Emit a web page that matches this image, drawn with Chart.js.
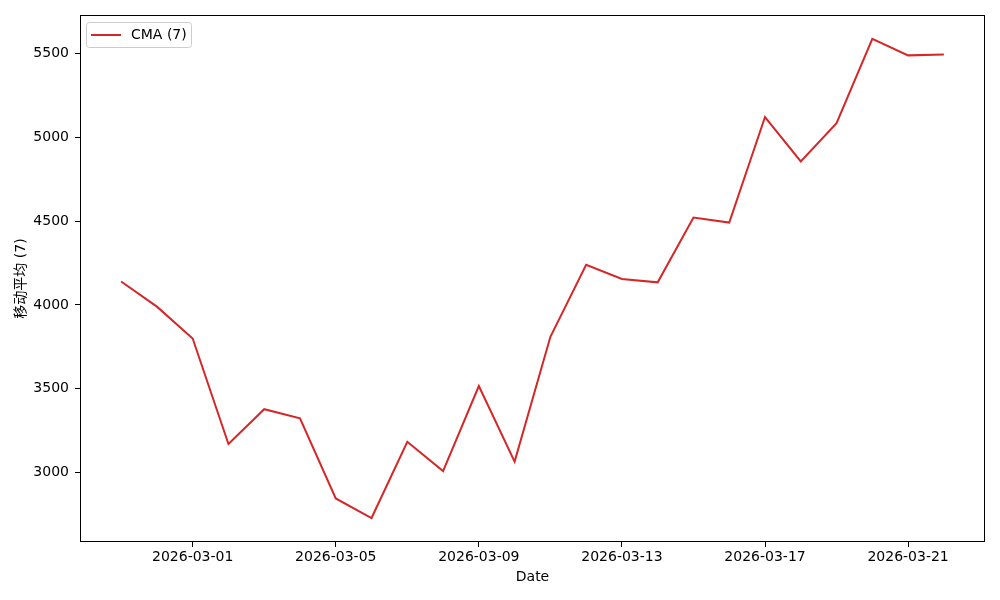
<!DOCTYPE html>
<html>
<head>
<meta charset="utf-8">
<script src="https://cdn.jsdelivr.net/npm/chart.js@4"></script>
<style>
  html, body { margin: 0; padding: 0; background: #fff; }
  #wrap { width: 1000px; height: 600px; }
</style>
</head>
<body>
<div id="wrap"><canvas id="chart" width="1000" height="600"></canvas></div>
<script>
const dates = [
  "2026-02-27", "2026-02-28", "2026-03-01", "2026-03-02", "2026-03-03", "2026-03-04",
  "2026-03-05", "2026-03-06", "2026-03-07", "2026-03-08", "2026-03-09", "2026-03-10",
  "2026-03-11", "2026-03-12", "2026-03-13", "2026-03-14", "2026-03-15", "2026-03-16",
  "2026-03-17", "2026-03-18", "2026-03-19", "2026-03-20", "2026-03-21", "2026-03-22"
];
const cmaValues = [
  4140, 3990, 3800, 3170, 3378, 3323,
  2845, 2728, 3183, 3008, 3516, 3065,
  3810, 4240, 4155, 4135, 4522, 4492,
  5122, 4857, 5085, 5588, 5490, 5495
];
const xTickDates = ["2026-03-01", "2026-03-05", "2026-03-09", "2026-03-13", "2026-03-17", "2026-03-21"];
const yTicks = [3000, 3500, 4000, 4500, 5000, 5500];
const seriesLabel = "CMA (7)";
const yTitle = "移动平均 (7)";

const FONT = "'DejaVu Sans', sans-serif";

// frame around the plot area
const framePlugin = {
  id: "frame",
  afterDraw(chart) {
    const a = chart.chartArea, ctx = chart.ctx;
    ctx.save();
    ctx.strokeStyle = "#000";
    ctx.lineWidth = 1;
    ctx.strokeRect(Math.round(a.left) + 0.5, Math.round(a.top) + 0.5,
      Math.round(a.right - a.left) - 1, Math.round(a.bottom - a.top) - 1);
    ctx.restore();
  }
};

// matplotlib-style legend inside the top-left corner
const insideLegend = {
  id: "insideLegend",
  afterDraw(chart) {
    const a = chart.chartArea, ctx = chart.ctx;
    const ds = chart.data.datasets[0];
    const x = a.left + 6, y = a.top + 7, w = 105, h = 25;
    ctx.save();
    ctx.fillStyle = "rgba(255,255,255,0.8)";
    ctx.strokeStyle = "#cccccc";
    ctx.lineWidth = 1;
    ctx.beginPath();
    ctx.roundRect(x + 0.5, y + 0.5, w, h, 3);
    ctx.fill();
    ctx.stroke();
    ctx.strokeStyle = ds.borderColor;
    ctx.lineWidth = 2;
    ctx.beginPath();
    ctx.moveTo(x + 5, y + 13);
    ctx.lineTo(x + 35, y + 13);
    ctx.stroke();
    ctx.fillStyle = "#000";
    ctx.font = "14px " + FONT;
    ctx.textBaseline = "middle";
    ctx.fillText(ds.label, x + 45, y + 13);
    ctx.restore();
  }
};

const points = cmaValues.map((v, i) => ({ x: i, y: v }));
const span = dates.length - 1;

new Chart(document.getElementById("chart").getContext("2d"), {
  type: "line",
  data: {
    datasets: [{
      label: seriesLabel,
      data: points,
      borderColor: "#d62728",
      borderWidth: 2,
      pointRadius: 0,
      fill: false,
      tension: 0
    }]
  },
  options: {
    responsive: false,
    animation: false,
    layout: { padding: { top: 15, right: 15, left: 0, bottom: 0 } },
    plugins: { legend: { display: false }, tooltip: { enabled: false } },
    scales: {
      x: {
        type: "linear",
        min: -span * 0.05,
        max: span * 1.05,
        afterBuildTicks(axis) {
          axis.ticks = xTickDates.map(d => ({ value: dates.indexOf(d) }));
        },
        afterFit(axis) { axis.height = 58; },
        grid: { drawOnChartArea: false, drawTicks: true, tickLength: 5, color: "#000" },
        border: { display: false },
        ticks: {
          color: "#000",
          font: { family: FONT, size: 14 },
          padding: 2,
          maxRotation: 0,
          autoSkip: false,
          callback: v => dates[v]
        },
        title: {
          display: true,
          text: "Date",
          color: "#000",
          font: { family: FONT, size: 14 },
          padding: { top: 0, bottom: 14 }
        }
      },
      y: {
        min: 2585,
        max: 5731,
        afterBuildTicks(axis) {
          axis.ticks = yTicks.map(v => ({ value: v }));
        },
        afterFit(axis) { axis.width = 80; },
        grid: { drawOnChartArea: false, drawTicks: true, tickLength: 5, color: "#000" },
        border: { display: false },
        ticks: {
          color: "#000",
          font: { family: FONT, size: 14 },
          padding: 6,
          callback: v => String(v)
        },
        title: {
          display: true,
          text: yTitle,
          color: "#000",
          font: { family: FONT + ", 'Noto Sans CJK SC'", size: 14 },
          padding: { top: 13, bottom: 0 }
        }
      }
    }
  },
  plugins: [framePlugin, insideLegend]
});
</script>
</body>
</html>
